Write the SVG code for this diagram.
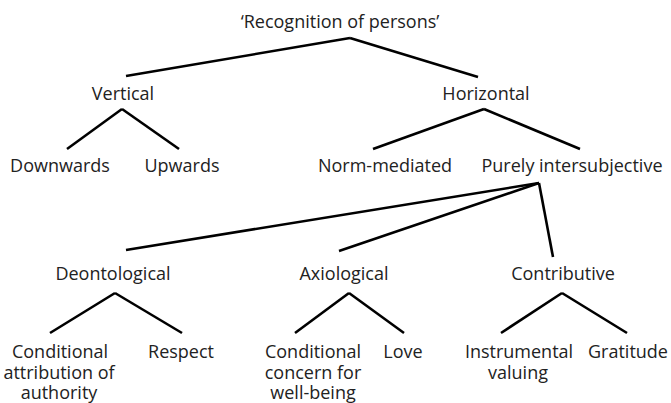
<svg xmlns="http://www.w3.org/2000/svg" width="671" height="403" viewBox="0 0 671 403">
<style>
text{font-family:"Open Sans","Noto Sans","DejaVu Sans",sans-serif;font-size:18px;fill:#222;text-anchor:middle}
.c line{stroke:#000;stroke-width:2.6;stroke-linecap:butt}
</style>
<rect width="671" height="403" fill="#fff"/>
<g class="c" id="connectors">
<line x1="350" y1="38" x2="126" y2="76"/>
<line x1="350" y1="38" x2="478" y2="77"/>
<line x1="122" y1="109" x2="67" y2="149"/>
<line x1="122" y1="109" x2="179" y2="149"/>
<line x1="484" y1="109" x2="373" y2="149"/>
<line x1="484" y1="109" x2="580" y2="149"/>
<line x1="539" y1="183" x2="126" y2="250"/>
<line x1="539" y1="183" x2="339" y2="251"/>
<line x1="539" y1="183" x2="553" y2="257"/>
<line x1="115" y1="293" x2="50" y2="333"/>
<line x1="115" y1="293" x2="182" y2="333"/>
<line x1="349" y1="293" x2="295" y2="333"/>
<line x1="349" y1="293" x2="404" y2="333"/>
<line x1="562" y1="293" x2="501" y2="333"/>
<line x1="562" y1="293" x2="627" y2="333"/>
</g>
<g id="root"><text x="340" y="28">‘Recognition of persons’</text></g>
<g id="vertical"><text x="123" y="100">Vertical</text></g>
<g id="horizontal"><text x="486" y="100">Horizontal</text></g>
<g id="downwards"><text x="60" y="172">Downwards</text></g>
<g id="upwards"><text x="182" y="172">Upwards</text></g>
<g id="norm-mediated"><text x="385" y="172">Norm-mediated</text></g>
<g id="purely-intersubjective"><text x="572" y="172">Purely intersubjective</text></g>
<g id="deontological"><text x="113" y="280">Deontological</text></g>
<g id="axiological"><text x="344" y="280">Axiological</text></g>
<g id="contributive"><text x="563" y="280">Contributive</text></g>
<g id="conditional-attribution"><text x="60" y="358">Conditional<tspan x="59" dy="21">attribution of</tspan><tspan x="59" dy="20">authority</tspan></text></g>
<g id="respect"><text x="181" y="358">Respect</text></g>
<g id="conditional-concern"><text x="313" y="358">Conditional<tspan x="313" dy="21">concern for</tspan><tspan x="313" dy="20">well-being</tspan></text></g>
<g id="love"><text x="403" y="358">Love</text></g>
<g id="instrumental-valuing"><text x="519" y="358">Instrumental<tspan x="518" dy="21">valuing</tspan></text></g>
<g id="gratitude"><text x="628" y="358">Gratitude</text></g>
</svg>
